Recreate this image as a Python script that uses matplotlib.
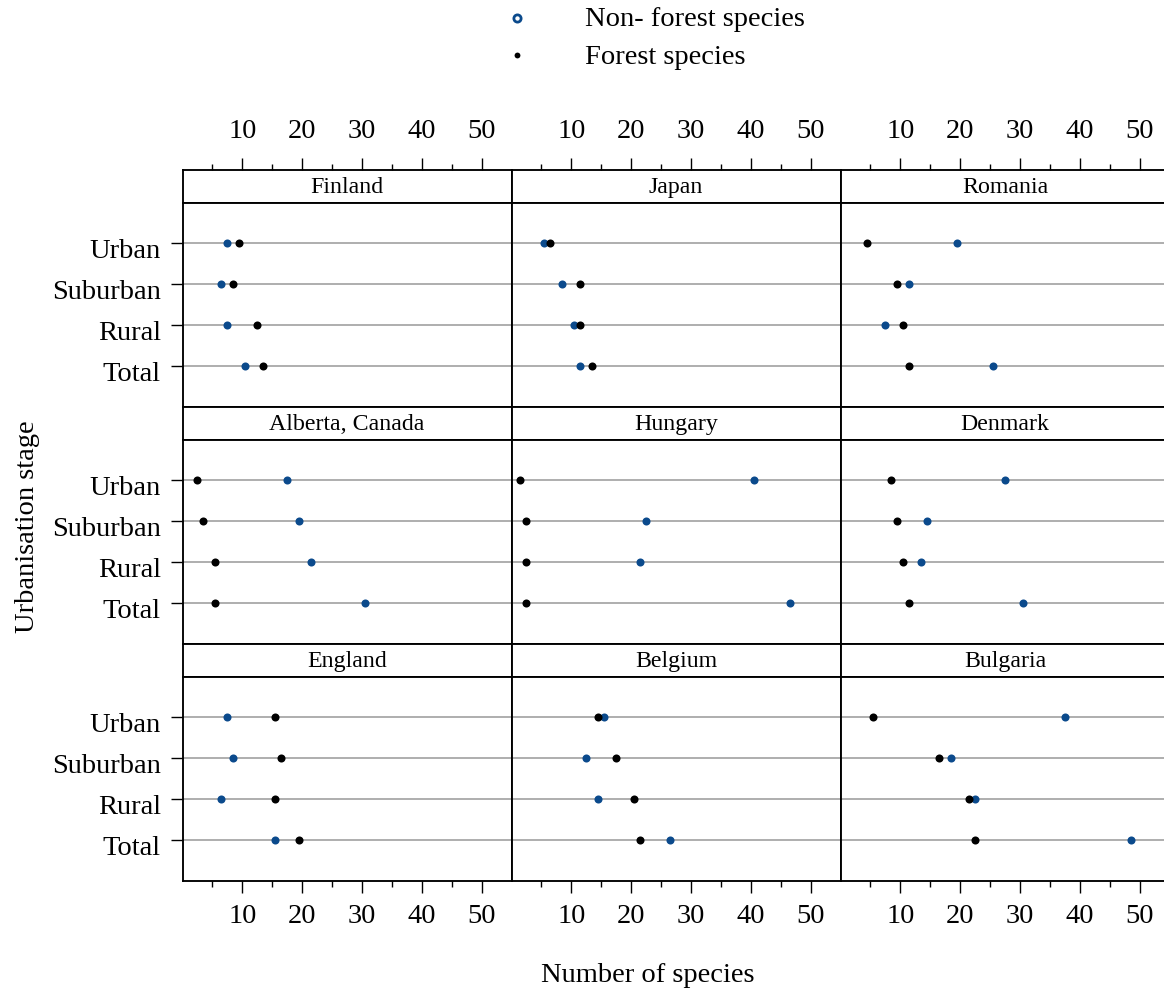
import matplotlib
matplotlib.use("Agg")
import matplotlib.pyplot as plt
from matplotlib.lines import Line2D
from matplotlib.ticker import FixedLocator
from matplotlib.transforms import ScaledTranslation

plt.rcParams['font.family'] = ['Liberation Serif', 'DejaVu Serif']

# ---------------- data ----------------
regions = ['Finland', 'Japan', 'Romania',
           'Alberta, Canada', 'Hungary', 'Denmark',
           'England', 'Belgium', 'Bulgaria']
stages = ['Urban', 'Suburban', 'Rural', 'Total']

nonforest = [
    [7.5, 6.5, 7.5, 10.5],     # Finland
    [5.5, 8.5, 10.5, 11.5],    # Japan
    [19.5, 11.5, 7.5, 25.5],   # Romania
    [17.5, 19.5, 21.5, 30.5],  # Alberta, Canada
    [40.5, 22.5, 21.5, 46.5],  # Hungary
    [27.5, 14.5, 13.5, 30.5],  # Denmark
    [7.5, 8.5, 6.5, 15.5],     # England
    [15.5, 12.5, 14.5, 26.5],  # Belgium
    [37.5, 18.5, 22.5, 48.5],  # Bulgaria
]
forest = [
    [9.5, 8.5, 12.5, 13.5],
    [6.5, 11.5, 11.5, 13.5],
    [4.5, 9.5, 10.5, 11.5],
    [2.5, 3.5, 5.5, 5.5],
    [1.5, 2.5, 2.5, 2.5],
    [8.5, 9.5, 10.5, 11.5],
    [15.5, 16.5, 15.5, 19.5],
    [14.5, 17.5, 20.5, 21.5],
    [5.5, 16.5, 21.5, 22.5],
]
major_ticks = [10, 20, 30, 40, 50]
minor_ticks = [5, 15, 25, 35, 45]
legend_labels = ['Non- forest species', 'Forest species']

BLUE = '#0B4A8C'
GRID = '#999999'

# ---------------- layout (pixels) ----------------
W, H = 1164, 995
fig = plt.figure(figsize=(W / 100, H / 100), dpi=100)

def fr(x, y, w, h):
    return [x / W, 1 - (y + h) / H, w / W, h / H]

col_left = [182.5, 511.5, 840.5]
col_w = 329.0
row_top = [171.0, 408.0, 645.0]
strip_h = 32.5
panel_h = 204.5
XLIM = (0, 55)
SP_LW = 1.35

tick_fs = 20.5
strip_fs = 17.2
down = ScaledTranslation(0, -4 / 100, fig.dpi_scale_trans)

for i, reg in enumerate(regions):
    r, c = divmod(i, 3)
    x = col_left[c]
    ytop = row_top[r]
    # strip
    sax = fig.add_axes(fr(x, ytop, col_w, strip_h))
    sax.set_xlim(*XLIM)
    sax.set_ylim(0, 1)
    sax.set_yticks([])
    for s in sax.spines.values():
        s.set_linewidth(SP_LW)
    sax.text(0.5, 0.5, reg, transform=sax.transAxes, ha='center', va='center',
             fontsize=strip_fs)
    if r == 0:
        sax.xaxis.tick_top()
        sax.xaxis.set_major_locator(FixedLocator(major_ticks))
        sax.xaxis.set_minor_locator(FixedLocator(minor_ticks))
        sax.set_xticklabels([str(t) for t in major_ticks])
        sax.tick_params(axis='x', which='major', direction='out', length=8.6,
                        width=1.0, labelsize=tick_fs, pad=11)
        sax.tick_params(axis='x', which='minor', direction='out', length=4.3,
                        width=1.0)
    else:
        sax.set_xticks([])

    # panel
    ax = fig.add_axes(fr(x, ytop + strip_h, col_w, panel_h))
    ax.set_xlim(*XLIM)
    ax.set_ylim(len(stages) + 1, 0)
    ypos = list(range(1, len(stages) + 1))
    ax.set_yticks(ypos)
    ax.yaxis.grid(True, color=GRID, linewidth=1.1)
    ax.set_axisbelow(True)
    for s in ax.spines.values():
        s.set_linewidth(SP_LW)
    ax.plot(nonforest[i], ypos, 'o', color=BLUE, ms=5.8, mew=0, zorder=3)
    ax.plot(forest[i], ypos, 'o', color='black', ms=5.8, mew=0, zorder=4)
    if c == 0:
        ax.set_yticklabels(stages)
        ax.tick_params(axis='y', direction='out', length=8.6, width=1.0,
                       labelsize=tick_fs, pad=7)
        for lab in ax.get_yticklabels():
            lab.set_transform(lab.get_transform() + down)
    else:
        ax.tick_params(axis='y', length=0, labelleft=False)
    if r == 2:
        ax.xaxis.set_major_locator(FixedLocator(major_ticks))
        ax.xaxis.set_minor_locator(FixedLocator(minor_ticks))
        ax.set_xticklabels([str(t) for t in major_ticks])
        ax.tick_params(axis='x', which='major', direction='out', length=8.6,
                       width=1.0, labelsize=tick_fs, pad=7)
        ax.tick_params(axis='x', which='minor', direction='out', length=4.3,
                       width=1.0)
    else:
        ax.set_xticks([])

# axis titles
fig.text(648 / W, 1 - 976 / H, 'Number of species', ha='center', va='center',
         fontsize=20.5)
fig.text(28 / W, 1 - 527 / H, 'Urbanisation stage', ha='center', va='center',
         rotation=90, fontsize=20.5)

# legend (manual)
fig.add_artist(Line2D([517 / W], [1 - 19 / H], transform=fig.transFigure,
                      marker='o', ms=5.2, mfc='white', mec=BLUE, mew=2.0,
                      ls='none'))
fig.add_artist(Line2D([517 / W], [1 - 56 / H], transform=fig.transFigure,
                      marker='o', ms=4.2, mfc='black', mec='black', mew=0,
                      ls='none'))
fig.text(585 / W, 1 - 20 / H, legend_labels[0], ha='left', va='center',
         fontsize=20.5)
fig.text(585 / W, 1 - 58 / H, legend_labels[1], ha='left', va='center',
         fontsize=20.5)

fig.savefig('out.png', dpi=100)
